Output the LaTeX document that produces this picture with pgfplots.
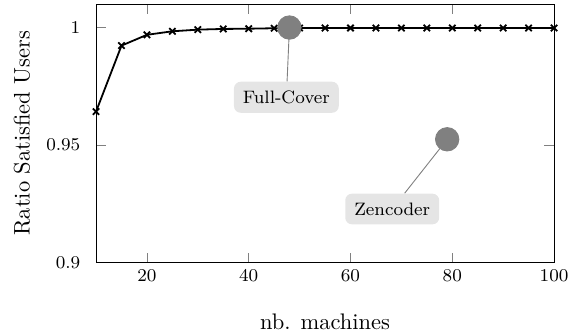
\documentclass[border=0pt]{standalone}
\usepackage{pgfplots}
\pgfplotsset{compat=1.18}
\usetikzlibrary{calc}
\begin{document}
\begin{tikzpicture}
\begin{axis}[
  name=ax,
  scale only axis,
  width=203.6pt, height=114.8pt,
  xmin=10, xmax=100, ymin=0.9, ymax=1.01,
  xtick={20,40,60,80,100},
  ytick={0.9,0.95,1},
  yticklabels={0.9,0.95,1},
  tick label style={font=\footnotesize},
  yticklabel style={xshift=-3.5pt},
  xlabel={nb. machines},
  ylabel={Ratio Satisfied Users},
  xlabel style={at={(axis description cs:0.5,-0.2308)}, anchor=center},
  ylabel style={at={(axis description cs:-0.1616,0.5)}, anchor=center},
  clip=false,
]
\addplot[thick, black, mark=x, mark size=2pt, mark options={thick}] coordinates {
(10,0.9642) (15,0.9923) (20,0.9969) (25,0.9984) (30,0.9991) (35,0.9994)
(40,0.9995) (45,0.9997) (50,0.9998) (55,0.9998) (60,0.9998) (65,0.9998)
(70,0.9998) (75,0.9998) (80,0.9998) (85,0.9998) (90,0.9998) (95,0.9998) (100,0.9998)
};
\addplot[only marks, draw=gray, fill=gray, mark=*, mark size=5.2pt, mark options={draw=gray, fill=gray}] coordinates {
(48,1.0) (79,0.9524)
};
\coordinate (c1) at (axis cs:48,1.0);
\coordinate (c2) at (axis cs:79,0.9524);
\node[fill=gray!20, rounded corners=3pt, font=\footnotesize, inner sep=4pt] (l1) at (axis cs:47.4,0.9703) {Full-Cover};
\node[fill=gray!20, rounded corners=3pt, font=\footnotesize, inner sep=4pt] (l2) at (axis cs:68.2,0.9227) {Zencoder};
\draw[gray] ($(c1)!5.2pt!(l1)$) -- (l1);
\draw[gray] ($(c2)!5.2pt!(l2)$) -- (l2);
\end{axis}
\pgfresetboundingbox
\path[use as bounding box] ($(ax.south west)+(-42.7pt,-31pt)$) rectangle ($(ax.north east)+(6.2pt,1.8pt)$);
\end{tikzpicture}
\end{document}
